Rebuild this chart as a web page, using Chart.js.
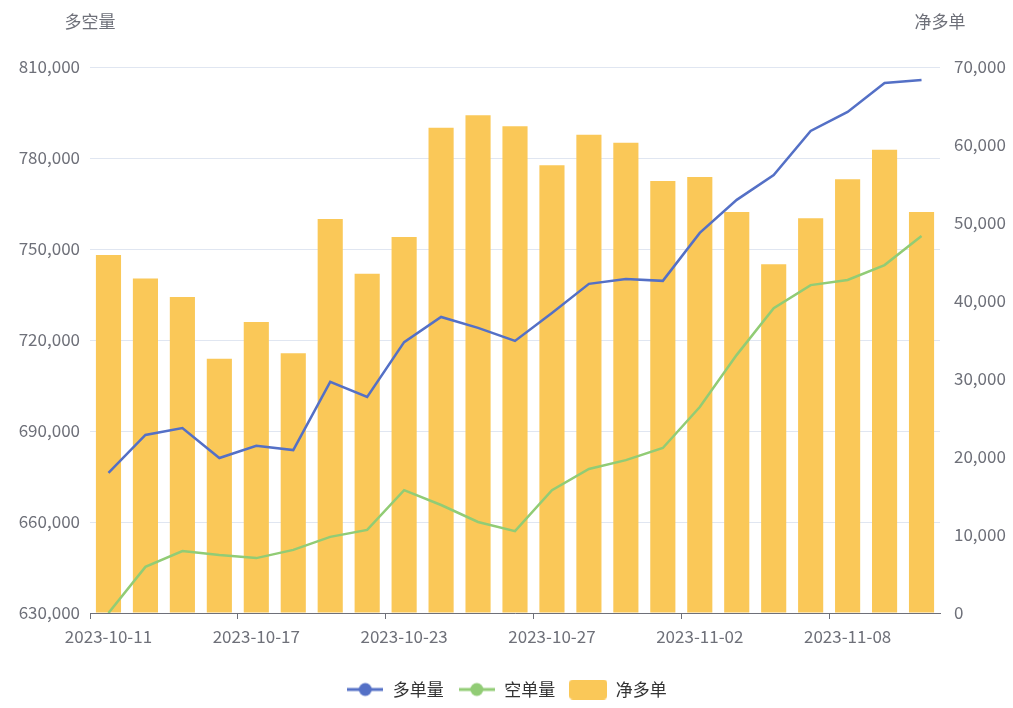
<!DOCTYPE html>
<html>
<head>
<meta charset="utf-8">
<script src="https://cdn.jsdelivr.net/npm/chart.js@4.4.1/dist/chart.umd.min.js"></script>
<style>
  html, body { margin: 0; padding: 0; background: #fff; }
  #wrap { width: 1013px; height: 708px; }
</style>
</head>
<body>
<div id="wrap"><canvas id="posChart"></canvas></div>
<script>
const dates = [
    "2023-10-11", "2023-10-12", "2023-10-13", "2023-10-16", "2023-10-17", "2023-10-18",
    "2023-10-19", "2023-10-20", "2023-10-23", "2023-10-24", "2023-10-25", "2023-10-26",
    "2023-10-27", "2023-10-30", "2023-10-31", "2023-11-01", "2023-11-02", "2023-11-03",
    "2023-11-06", "2023-11-07", "2023-11-08", "2023-11-09", "2023-11-10"
];
// 多单量 (left axis)
const longVol = [
    676200, 688700, 691000, 681100, 685100, 683700, 706200, 701200, 719300, 727600, 724000, 719700,
    728900, 738500, 740100, 739500, 755300, 766200, 774400, 788900, 795200, 804700, 805700
];
// 空单量 (left axis)
const shortVol = [
    630000, 645200, 650400, 649100, 648100, 650800, 655100, 657400, 670500, 665600, 660000, 657000,
    670500, 677500, 680400, 684400, 697900, 715100, 730500, 738100, 739800, 744700, 754300
];
// 净多单 (right axis)
const netLong = [
    45900, 42900, 40500, 32600, 37300, 33300, 50500, 43500, 48200, 62200, 63800, 62400,
    57400, 61300, 60300, 55400, 55900, 51400, 44700, 50600, 55600, 59400, 51400
];
const leftTicks = [630000, 810000, 30000];
const rightTicks = [0, 70000, 10000];

const FONT = "'Noto Sans CJK SC', 'Noto Sans', sans-serif";
const BLUE = "#5470c6", GREEN = "#91cc75", YELLOW = "#fac858";
const LABEL = "#6e7079";

function lineIcon(color) {
    const c = document.createElement("canvas");
    c.width = 36; c.height = 16;
    const g = c.getContext("2d");
    g.strokeStyle = color; g.lineWidth = 3;
    g.beginPath(); g.moveTo(0, 8); g.lineTo(36, 8); g.stroke();
    g.fillStyle = color;
    g.beginPath(); g.arc(18, 8, 6.5, 0, Math.PI * 2); g.fill();
    return c;
}
function barIcon(color) {
    const c = document.createElement("canvas");
    c.width = 38; c.height = 20;
    const g = c.getContext("2d");
    g.fillStyle = color;
    g.beginPath(); g.roundRect(0, 0, 38, 20, 4); g.fill();
    return c;
}

// axis names drawn above each y axis
const axisNames = {
    id: "axisNames",
    afterDraw(chart) {
        const ctx = chart.ctx;
        ctx.save();
        ctx.font = "17px " + FONT;
        ctx.fillStyle = LABEL;
        ctx.textAlign = "center";
        ctx.textBaseline = "middle";
        ctx.fillText("多空量", chart.scales.y.right, 22);
        ctx.fillText("净多单", chart.scales.y1.left, 22);
        ctx.restore();
    }
};

const ctx = document.getElementById("posChart").getContext("2d");
new Chart(ctx, {
    data: {
        labels: dates,
        datasets: [
            {
                type: "line", label: "多单量", data: longVol, yAxisID: "y",
                borderColor: BLUE, backgroundColor: BLUE, borderWidth: 2.5,
                pointRadius: 0, tension: 0, order: 0
            },
            {
                type: "line", label: "空单量", data: shortVol, yAxisID: "y",
                borderColor: GREEN, backgroundColor: GREEN, borderWidth: 2.5,
                pointRadius: 0, tension: 0, order: 0
            },
            {
                type: "bar", label: "净多单", data: netLong, yAxisID: "y1",
                backgroundColor: YELLOW, barPercentage: 0.68, categoryPercentage: 1,
                order: 1
            }
        ]
    },
    options: {
        responsive: true,
        maintainAspectRatio: false,
        animation: false,
        layout: { padding: { top: 67, left: 0, right: 0, bottom: 0 } },
        plugins: {
            tooltip: { enabled: false },
            legend: {
                position: "bottom",
                labels: {
                    usePointStyle: true,
                    pointStyleWidth: 38,
                    padding: 14,
                    color: "#333",
                    font: { family: FONT, size: 17 },
                    generateLabels(chart) {
                        return chart.data.datasets.map((ds, i) => ({
                            text: ds.label,
                            datasetIndex: i,
                            fontColor: "#333",
                            hidden: false,
                            lineWidth: 0,
                            strokeStyle: "transparent",
                            fillStyle: ds.backgroundColor,
                            pointStyle: ds.type === "bar" ? barIcon(YELLOW) : lineIcon(ds.borderColor)
                        }));
                    }
                }
            }
        },
        scales: {
            x: {
                offset: true,
                grid: {
                    drawOnChartArea: false,
                    tickLength: 6,
                    tickColor: c => (c.index % 4 === 0 ? LABEL : "transparent")
                },
                border: { color: LABEL, width: 1 },
                ticks: {
                    autoSkip: false,
                    maxRotation: 0,
                    color: LABEL,
                    padding: 7,
                    font: { family: FONT, size: 17 },
                    callback: (v, i) => (i % 4 === 0 ? dates[i] : "")
                },
                afterFit: s => { s.height = 54; }
            },
            y: {
                position: "left",
                min: leftTicks[0], max: leftTicks[1],
                border: { display: false },
                grid: { color: "#e0e6f1", drawTicks: false },
                ticks: {
                    stepSize: leftTicks[2],
                    color: LABEL,
                    padding: 10,
                    font: { family: FONT, size: 17 },
                    callback: v => v.toLocaleString("en-US")
                },
                afterFit: s => { s.width = 90; }
            },
            y1: {
                position: "right",
                min: rightTicks[0], max: rightTicks[1],
                border: { display: false },
                grid: { drawOnChartArea: false, drawTicks: false },
                ticks: {
                    stepSize: rightTicks[2],
                    color: LABEL,
                    padding: 14,
                    font: { family: FONT, size: 17 },
                    callback: v => v.toLocaleString("en-US")
                },
                afterFit: s => { s.width = 73; }
            }
        }
    },
    plugins: [axisNames]
});
</script>
</body>
</html>
